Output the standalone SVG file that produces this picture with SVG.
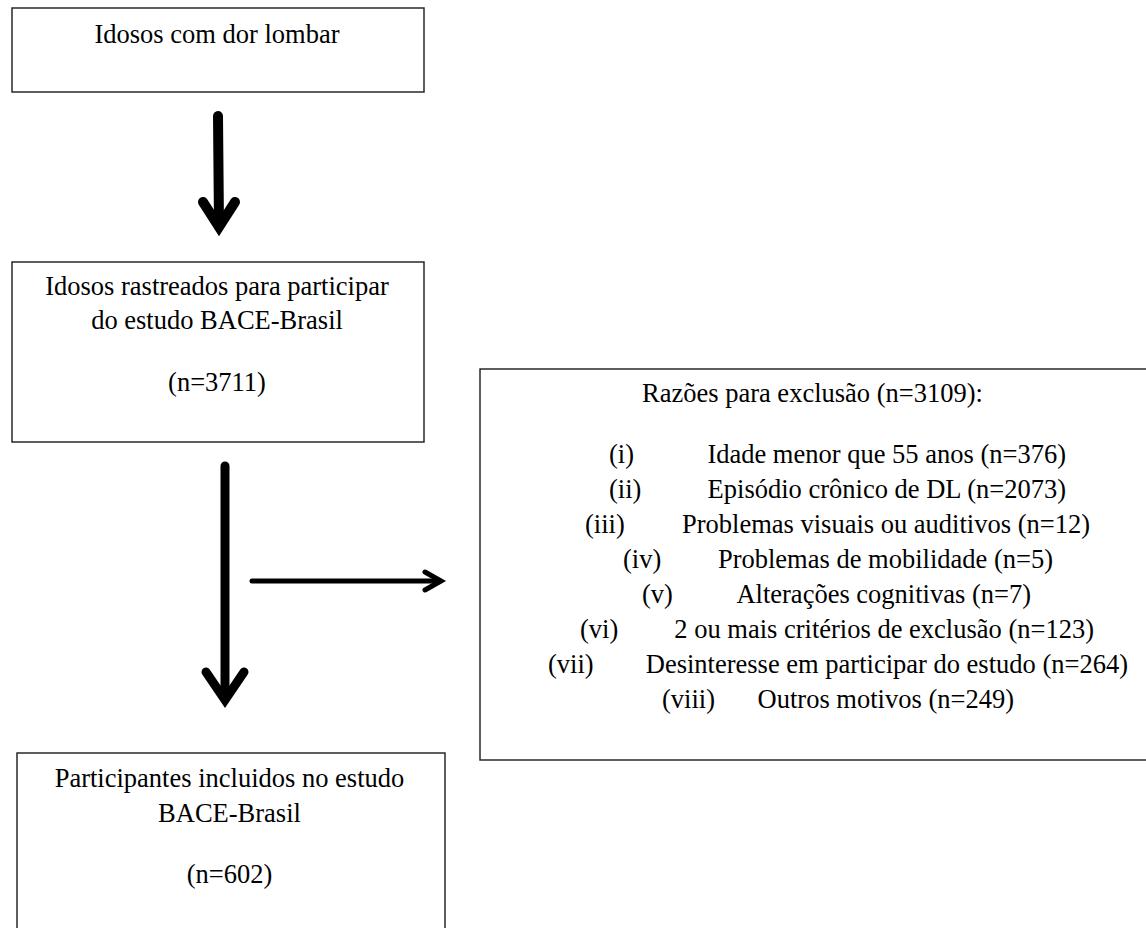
<svg xmlns="http://www.w3.org/2000/svg" width="1146" height="928" viewBox="0 0 1146 928">
<style>
.box{fill:#fff;stroke:#1a1a1a;stroke-width:1.4}
.t{font-family:"Liberation Serif","Times New Roman",serif;font-size:26.5px;fill:#000}
.c{text-anchor:middle}
.e{text-anchor:end}
.thick{fill:none;stroke:#000;stroke-linecap:round;stroke-linejoin:miter}
</style>
<rect width="1146" height="928" fill="#fff"/>
<g id="connectors">
  <g id="arrow1">
    <line class="thick" x1="218" y1="116" x2="219" y2="226" stroke-width="10"/>
    <polyline class="thick" points="203,202 219,227 235,202" stroke-width="10"/>
  </g>
  <g id="arrow2">
    <line class="thick" x1="225" y1="466" x2="225" y2="698" stroke-width="9"/>
    <polyline class="thick" points="206,672 225,700 244,672" stroke-width="9"/>
  </g>
  <g id="arrow3">
    <line class="thick" x1="252" y1="581" x2="440" y2="581" stroke-width="5"/>
    <polyline class="thick" points="425,572 441,581 425,590" stroke-width="5"/>
  </g>
</g>
<g id="node1">
  <rect class="box" x="12" y="8" width="412" height="84"/>
  <text class="t c" x="217" y="43">Idosos com dor lombar</text>
</g>
<g id="node2">
  <rect class="box" x="12" y="262" width="412" height="180"/>
  <text class="t c" x="217" y="295">Idosos rastreados para participar</text>
  <text class="t c" x="217" y="329">do estudo BACE-Brasil</text>
  <text class="t c" x="217" y="391">(n=3711)</text>
</g>
<g id="node3">
  <rect class="box" x="480" y="369" width="690" height="391"/>
  <text class="t" x="642" y="402">Razões para exclusão (n=3109):</text>
  <text class="t" x="609" y="463">(i)</text>
  <text class="t e" x="1066" y="463">Idade menor que 55 anos (n=376)</text>
  <text class="t" x="609" y="498">(ii)</text>
  <text class="t e" x="1066" y="498">Episódio crônico de DL (n=2073)</text>
  <text class="t" x="585" y="533">(iii)</text>
  <text class="t e" x="1090" y="533">Problemas visuais ou auditivos (n=12)</text>
  <text class="t" x="623" y="568">(iv)</text>
  <text class="t e" x="1053" y="568">Problemas de mobilidade (n=5)</text>
  <text class="t" x="642" y="603">(v)</text>
  <text class="t e" x="1031" y="603">Alterações cognitivas (n=7)</text>
  <text class="t" x="580" y="638">(vi)</text>
  <text class="t e" x="1094" y="638">2 ou mais critérios de exclusão (n=123)</text>
  <text class="t" x="548" y="673">(vii)</text>
  <text class="t e" x="1128" y="673">Desinteresse em participar do estudo (n=264)</text>
  <text class="t" x="662" y="708">(viii)</text>
  <text class="t e" x="1014" y="708">Outros motivos (n=249)</text>
</g>
<g id="node4">
  <rect class="box" x="17" y="753" width="428" height="190"/>
  <text class="t c" x="229.5" y="787">Participantes incluidos no estudo</text>
  <text class="t c" x="229.5" y="822">BACE-Brasil</text>
  <text class="t c" x="229.5" y="883">(n=602)</text>
</g>
</svg>
